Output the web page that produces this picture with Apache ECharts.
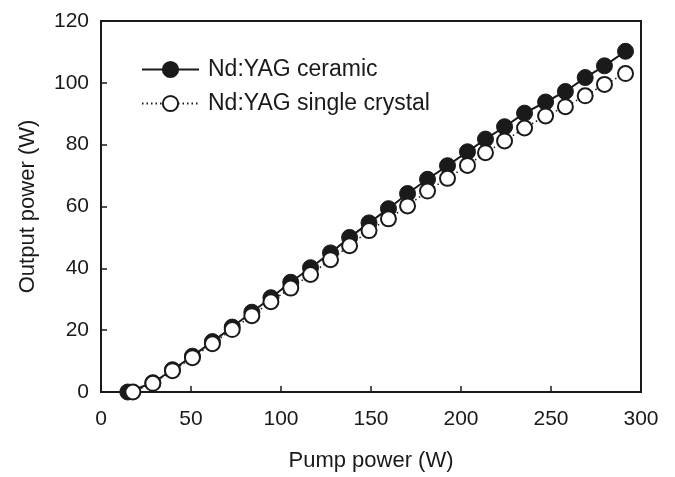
<!DOCTYPE html>
<html>
<head>
<meta charset="utf-8">
<script src="https://cdn.jsdelivr.net/npm/echarts@6/dist/echarts.min.js"></script>
<style>
  html, body { margin: 0; padding: 0; background: #fff; }
  #chart { width: 675px; height: 477px; }
</style>
</head>
<body>
<div id="chart"></div>
<script>
// pump power (W) and output power (W)
const ceramicPump = [14.9, 28.8, 39.7, 50.8, 61.9, 72.9, 83.8, 94.4, 105.4, 116.4, 127.5, 138.1, 148.9,
  159.7, 170.3, 181.4, 192.5, 203.6, 213.6, 224.2, 235.3, 247.0, 258.0, 269.0, 279.7, 291.4]
const ceramicOut = [0, 3.0, 7.2, 11.6, 16.3, 21.0, 25.8, 30.5, 35.5, 40.2, 45.0, 50.0, 54.7,
  59.3, 64.2, 68.8, 73.2, 77.7, 81.8, 85.8, 90.2, 93.8, 97.2, 101.7, 105.5, 110.2]
const crystalPump = [17.7, 28.8, 39.7, 50.8, 61.9, 72.9, 83.8, 94.4, 105.4, 116.4, 127.5, 138.1, 148.9,
  159.7, 170.3, 181.4, 192.5, 203.6, 213.6, 224.2, 235.3, 247.0, 258.0, 269.0, 279.7, 291.4]
const crystalOut = [0, 2.8, 6.9, 11.1, 15.6, 20.2, 24.7, 29.2, 33.6, 38.0, 42.8, 47.3, 52.2,
  56.0, 60.2, 65.0, 69.1, 73.3, 77.4, 81.2, 85.4, 89.3, 92.3, 95.8, 99.5, 103.0]
const seriesNames = ['Nd:YAG ceramic', 'Nd:YAG single crystal']

const ink = '#1a1a1a'
const font = 'Liberation Sans, Arial, Helvetica, sans-serif'

const chart = echarts.init(document.getElementById('chart'), null, { renderer: 'canvas' })

const toPairs = (xs, ys) => xs.map((x, i) => [x, ys[i]])

const option = {
  animation: false,
  backgroundColor: '#fff',
  textStyle: { fontFamily: font, color: ink },
  grid: {
    left: 101,
    right: 34,
    top: 21,
    bottom: 78,
    show: true,
    borderColor: ink,
    borderWidth: 2
  },
  legend: {
    orient: 'vertical',
    left: 136,
    top: 53,
    itemWidth: 57,
    itemHeight: 19,
    itemGap: 11,
    textStyle: { fontSize: 23, color: ink, fontFamily: font, padding: [0, 0, 0, 4] },
    data: seriesNames
  },
  xAxis: {
    type: 'value',
    min: 0,
    max: 300,
    interval: 50,
    name: 'Pump power (W)',
    nameLocation: 'middle',
    nameGap: 58,
    nameTextStyle: { fontSize: 22, color: ink },
    axisLine: { lineStyle: { color: ink, width: 2 } },
    axisTick: { inside: true, length: 6, lineStyle: { color: ink, width: 1.5 } },
    axisLabel: { fontSize: 21, color: ink, margin: 17 },
    splitLine: { show: false }
  },
  yAxis: {
    type: 'value',
    min: 0,
    max: 120,
    interval: 20,
    name: 'Output power (W)',
    nameLocation: 'middle',
    nameGap: 62,
    nameTextStyle: { fontSize: 22, color: ink },
    axisLine: { lineStyle: { color: ink, width: 2 } },
    axisTick: { inside: true, length: 6, lineStyle: { color: ink, width: 1.5 } },
    axisLabel: { fontSize: 21, color: ink, margin: 12 },
    splitLine: { show: false }
  },
  series: [
    {
      name: seriesNames[0],
      type: 'line',
      data: toPairs(ceramicPump, ceramicOut),
      symbol: 'circle',
      symbolSize: 16,
      showAllSymbol: true,
      itemStyle: { color: ink, borderColor: ink, borderWidth: 1 },
      lineStyle: { color: ink, width: 2 },
      z: 2
    },
    {
      name: seriesNames[1],
      type: 'line',
      data: toPairs(crystalPump, crystalOut),
      symbol: 'circle',
      symbolSize: 15,
      showAllSymbol: true,
      itemStyle: { color: '#fff', borderColor: ink, borderWidth: 2 },
      lineStyle: { color: ink, width: 1.5, type: [1.5, 3] },
      z: 3
    }
  ]
}

chart.setOption(option)
</script>
</body>
</html>
